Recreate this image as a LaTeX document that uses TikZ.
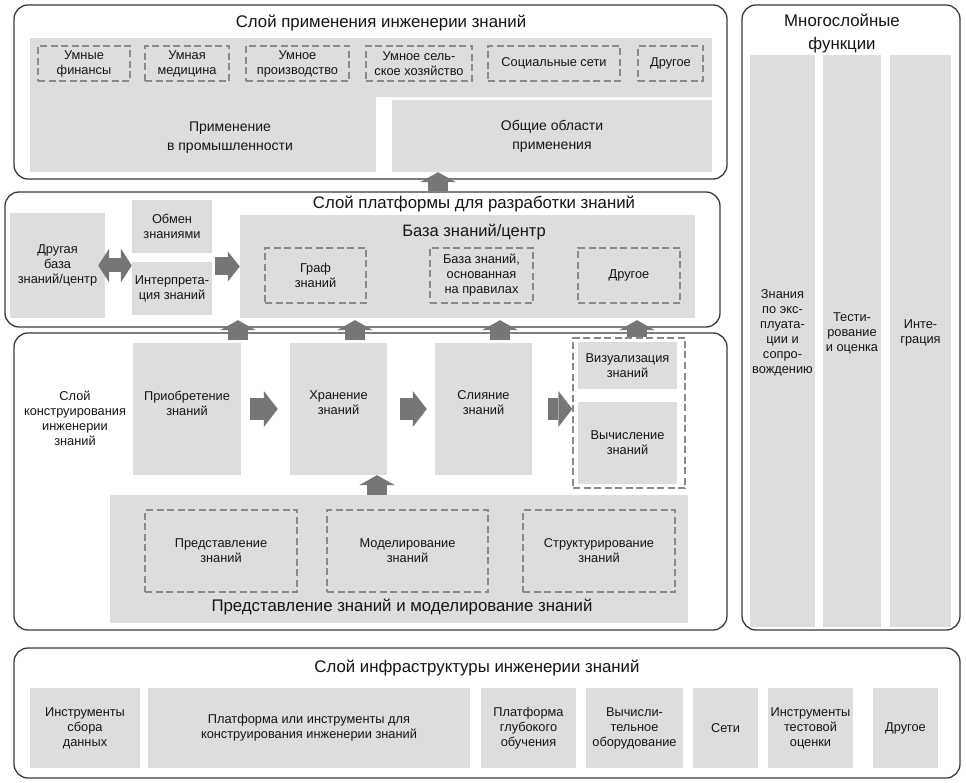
\documentclass[tikz,border=0pt]{standalone}
\usepackage{fontspec}
\setmainfont{Liberation Sans}
\usetikzlibrary{arrows.meta}
\definecolor{boxgray}{HTML}{DDDDDD}
\definecolor{edgecol}{HTML}{3A3A3A}
\definecolor{arrowcol}{HTML}{767676}
\definecolor{dashcol}{HTML}{8A8A8A}
\definecolor{txtcol}{HTML}{151515}
\begin{document}
\begin{tikzpicture}[x=1pt,y=-1pt,
  layerbox/.style={draw=edgecol, line width=1.3pt, fill=white, rounded corners=14pt, inner sep=0pt},
  gbox/.style={fill=boxgray, inner sep=0pt, align=center, text=txtcol, font=\fontsize{12.8}{15}\selectfont},
  dbox/.style={gbox, draw=dashcol, line width=1.4pt, dash pattern=on 7pt off 3.5pt, preaction={draw=white, line width=2.6pt}},
  ttl/.style={inner sep=0pt, text=txtcol, font=\fontsize{16.8}{23}\selectfont, align=center},
  midtxt/.style={inner sep=0pt, text=txtcol, font=\fontsize{14}{19}\selectfont, align=center},
  smalltxt/.style={inner sep=0pt, text=txtcol, font=\fontsize{12.8}{15}\selectfont, align=center},
  uparrow/.style={draw=arrowcol, line width=20pt, -{Triangle[length=10pt,width=36pt,line width=0pt]}},
  harrow/.style={draw=arrowcol, line width=22pt, -{Triangle[length=14pt,width=36pt,line width=0pt]}},
  harrowb/.style={draw=arrowcol, line width=18pt, -{Triangle[length=12pt,width=30pt,line width=0pt]}},
  darrow/.style={draw=arrowcol, line width=14pt, {Triangle[length=11pt,width=34pt,line width=0pt]}-{Triangle[length=11pt,width=34pt,line width=0pt]}}
]
\useasboundingbox (0,0) rectangle (966,783);

% ---------- outer layers ----------
\node[layerbox, minimum width=713pt, minimum height=174pt] (L1) at (370.5,92) {};
\node[layerbox, minimum width=715pt, minimum height=135pt] (L2) at (362.5,259.5) {};
\node[layerbox, minimum width=713pt, minimum height=297pt] (L3) at (370.5,481.5) {};
\node[layerbox, minimum width=946pt, minimum height=130pt] (L4) at (487,713) {};
\node[layerbox, minimum width=218pt, minimum height=625pt] (L5) at (851,317.5) {};

% ---------- application layer ----------
\node[ttl] (t1) at (381,23) {Слой применения инженерии знаний};
\node[gbox, minimum width=346pt, minimum height=134pt] (ind) at (203,105) {};
\node[gbox, minimum width=682pt, minimum height=59pt] (strip) at (371,67.5) {};
\node[gbox, minimum width=320pt, minimum height=72pt, font=\fontsize{14}{19}\selectfont] (gen) at (552,136) {Общие области\\применения};
\node[midtxt] (indt) at (230,138) {Применение\\в промышленности};

\node[dbox, minimum width=92pt, minimum height=35pt] (fin) at (84,63.5) {Умные\\финансы};
\node[dbox, minimum width=84pt, minimum height=35pt] (med) at (187,63.5) {Умная\\медицина};
\node[dbox, minimum width=103pt, minimum height=35pt] (prod) at (297.5,63.5) {Умное\\производство};
\node[dbox, minimum width=106pt, minimum height=35pt] (agri) at (419,63.5) {Умное сель-\\ское хозяйство};
\node[dbox, minimum width=132pt, minimum height=35pt] (soc) at (554,63.5) {Социальные сети};
\node[dbox, minimum width=65pt, minimum height=35pt] (othA) at (670.5,63.5) {Другое};

% ---------- platform layer ----------
\node[ttl] (t2) at (474,204) {Слой платформы для разработки знаний};
\node[gbox, minimum width=95pt, minimum height=105pt] (other) at (57.5,265.5) {Другая\\база\\знаний/центр};
\node[gbox, minimum width=80pt, minimum height=53pt] (exch) at (172,226.5) {Обмен\\знаниями};
\node[gbox, minimum width=80pt, minimum height=53pt] (interp) at (172,288.5) {Интерпрета-\\ция знаний};
\node[gbox, minimum width=455pt, minimum height=103pt] (kbc) at (467.5,266.5) {};
\node[inner sep=0pt, text=txtcol, font=\fontsize{16.5}{20}\selectfont] (kbct) at (474,232) {База знаний/центр};
\node[dbox, minimum width=101pt, minimum height=55pt] (graph) at (315.5,275.5) {Граф\\знаний};
\node[dbox, minimum width=103pt, minimum height=55pt] (rules) at (481.5,275.5) {База знаний,\\основанная\\на правилах};
\node[dbox, minimum width=102pt, minimum height=55pt] (othB) at (629,275.5) {Другое};

% ---------- construction layer ----------
\node[smalltxt] (t3) at (75,418) {Слой\\конструирования\\инженерии\\знаний};
\node[gbox, minimum width=108pt, minimum height=132pt] (acq) at (187,409) {};
\node[smalltxt] (acqt) at ([yshift=6pt]acq.center) {Приобретение\\знаний};
\node[gbox, minimum width=97pt, minimum height=132pt] (stor) at (338.5,409) {};
\node[smalltxt] (stort) at ([yshift=6pt]stor.center) {Хранение\\знаний};
\node[gbox, minimum width=97pt, minimum height=132pt] (fus) at (483.5,409) {};
\node[smalltxt] (fust) at ([yshift=6pt]fus.center) {Слияние\\знаний};
\node[dbox, fill=white, minimum width=112pt, minimum height=150pt] (grp) at (629,413) {};
\node[gbox, minimum width=99pt, minimum height=47pt] (vis) at (627.5,365.5) {Визуализация\\знаний};
\node[gbox, minimum width=99pt, minimum height=82pt] (comp) at (627.5,443) {Вычисление\\знаний};
\node[gbox, minimum width=578pt, minimum height=128pt] (rep) at (399,559) {};
\node[ttl] (t4) at (402,607) {Представление знаний и моделирование знаний};
\node[dbox, minimum width=152pt, minimum height=82pt] (krep) at (221,551) {Представление\\знаний};
\node[dbox, minimum width=161pt, minimum height=82pt] (kmod) at (407.5,551) {Моделирование\\знаний};
\node[dbox, minimum width=152pt, minimum height=82pt] (kstr) at (599,551) {Структурирование\\знаний};

% ---------- infrastructure layer ----------
\node[ttl] (t5) at (477,668) {Слой инфраструктуры инженерии знаний};
\node[gbox, minimum width=110pt, minimum height=80pt] (b1) at (85,728) {Инструменты\\сбора\\данных};
\node[gbox, minimum width=322pt, minimum height=80pt] (b2) at (309,728) {Платформа или инструменты для\\конструирования инженерии знаний};
\node[gbox, minimum width=95pt, minimum height=80pt] (b3) at (528.5,728) {Платформа\\глубокого\\обучения};
\node[gbox, minimum width=97pt, minimum height=80pt] (b4) at (634.5,728) {Вычисли-\\тельное\\оборудование};
\node[gbox, minimum width=65pt, minimum height=80pt] (b5) at (725.5,728) {Сети};
\node[gbox, minimum width=85pt, minimum height=80pt] (b6) at (810.5,728) {Инструменты\\тестовой\\оценки};
\node[gbox, minimum width=65pt, minimum height=80pt] (b7) at (905.5,728) {Другое};

% ---------- cross-layer functions ----------
\node[ttl] (t6) at (842,34) {Многослойные\\функции};
\node[gbox, minimum width=65pt, minimum height=572pt] (c1) at (782.5,341) {};
\node[smalltxt] (c1t) at ([yshift=8pt]c1.center) {Знания\\по экс-\\плуата-\\ции и\\сопро-\\вождению};
\node[gbox, minimum width=58pt, minimum height=572pt] (c2) at (852,341) {};
\node[smalltxt] (c2t) at ([yshift=8pt]c2.center) {Тести-\\рование\\и оценка};
\node[gbox, minimum width=61pt, minimum height=572pt] (c3) at (920.5,341) {};
\node[smalltxt] (c3t) at ([yshift=8pt]c3.center) {Инте-\\грация};

% ---------- arrows ----------
\draw[uparrow] (L2.north -| 438,0) -- (gen.south -| 438,0);
\draw[uparrow, shorten <=3pt, shorten >=2pt] (acq.north -| 238,0) -- (kbc.south -| 238,0);
\draw[uparrow, shorten <=3pt, shorten >=2pt] (stor.north -| 355,0) -- (kbc.south -| 355,0);
\draw[uparrow, shorten <=3pt, shorten >=2pt] (fus.north -| 500,0) -- (kbc.south -| 500,0);
\draw[uparrow, shorten >=2pt] (grp.north -| 637,0) -- (kbc.south -| 637,0);
\draw[uparrow] (rep.north -| 377,0) -- (stor.south -| 377,0);
\draw[harrow, shorten <=9pt, shorten >=12pt] (acq.east) -- (stor.west);
\draw[harrow, shorten <=13pt, shorten >=8pt] (stor.east) -- (fus.west);
\draw[harrow, shorten <=16pt] (fus.east) -- (fus.east -| grp.west);
\draw[darrow, shorten <=-7pt] (other.east) -- (other.east -| interp.west);
\draw[harrowb, shorten <=3pt] (kbc.west -| interp.east) -- (kbc.west);
\end{tikzpicture}
\end{document}
